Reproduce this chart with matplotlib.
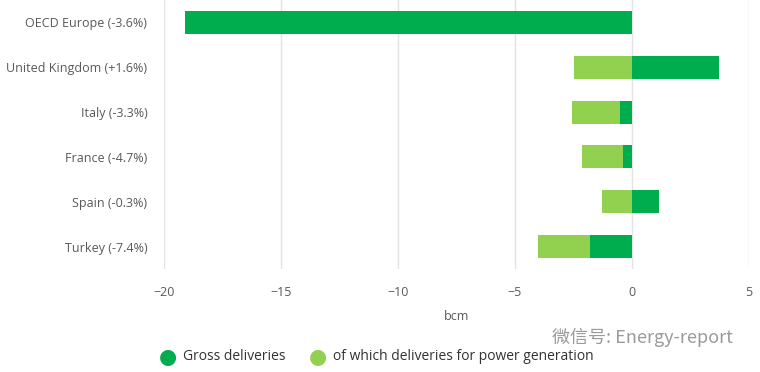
import numpy as np
import matplotlib.pyplot as plt

# Donnees (bcm)
pays = ["OECD Europe (-3.6%)", "United Kingdom (+1.6%)", "Italy (-3.3%)",
        "France (-4.7%)", "Spain (-0.3%)", "Turkey (-7.4%)"]
brut = [-19.1, 3.7, -0.5, -0.4, 1.15, -1.8]          # Gross deliveries
electricite = [0.0, -2.5, -2.05, -1.75, -1.3, -2.2]  # of which power generation

vert_fonce = "#00ad4e"
vert_clair = "#92d050"
gris = "#595959"

plt.rcParams['font.family'] = ['Open Sans', 'DejaVu Sans']

fig = plt.figure(figsize=(7.6, 3.72), dpi=100)
ax = fig.add_axes([164/760, 1 - 269/372, (749-164)/760, 269/372])

y = np.arange(len(pays))
brut = np.array(brut)
electricite = np.array(electricite)
# la partie "electricite" s'empile au bout de la barre brute si meme signe
depart = np.where(np.sign(brut) == np.sign(electricite), brut, 0.0)

ax.barh(y, brut, height=0.51, color=vert_fonce, zorder=3)
ax.barh(y, electricite, left=depart, height=0.51, color=vert_clair, zorder=3)

ax.set_xlim(-20, 5)
ax.set_ylim(len(pays) - 0.5, -0.5)
ax.set_xticks([-20, -15, -10, -5, 0, 5])
ax.set_xticklabels(["\u221220", "\u221215", "\u221210", "\u22125", "0", "5"])
ax.set_yticks(y)
ax.set_yticklabels(pays)
ax.tick_params(axis='both', length=0, labelsize=9, colors=gris)
ax.tick_params(axis='y', pad=12)
ax.tick_params(axis='x', pad=12)
ax.grid(axis='x', color="#e3e3e3", linewidth=1, zorder=0)
for s in ax.spines.values():
    s.set_visible(False)
ax.set_xlabel("bcm", fontsize=9, color=gris, labelpad=8)

# legende
fig.text(168/760, 1 - 357/372, "\u25cf", fontsize=15, color=vert_fonce, ha='center', va='center')
fig.text(183/760, 1 - 357/372, "Gross deliveries", fontsize=10, color="#333333", va='center')
fig.text(318/760, 1 - 357/372, "\u25cf", fontsize=15, color=vert_clair, ha='center', va='center')
fig.text(333/760, 1 - 357/372, "of which deliveries for power generation", fontsize=10,
         color="#333333", va='center')

# filigrane
fig.text(733/760, 1 - 337/372, "微信号: Energy-report", fontsize=13, color="#9a9a9a",
         ha='right', va='center', family=['Noto Sans CJK SC', 'DejaVu Sans'])

fig.savefig("out.png", dpi=100)
